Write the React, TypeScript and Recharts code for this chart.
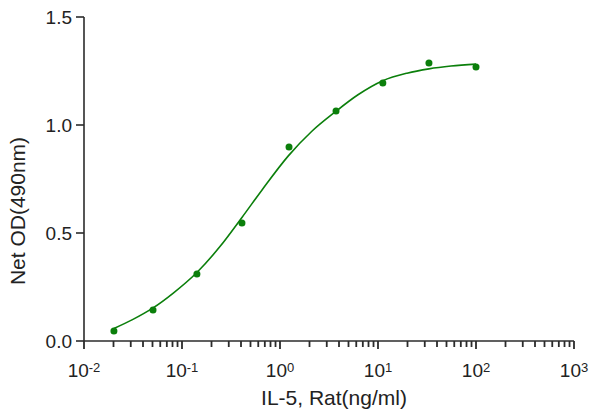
import React from 'react';
import { ComposedChart, Line, Scatter, XAxis, YAxis, Label } from 'recharts';

// Measured points (concentration ng/ml, Net OD)
const pointX = [0.0202, 0.0506, 0.142, 0.409, 1.236, 3.73, 11.2, 33.1, 100];
const pointY = [0.046, 0.144, 0.31, 0.546, 0.898, 1.065, 1.194, 1.287, 1.268];

// Fitted curve
const curveX = [0.0202, 0.0316, 0.0502, 0.0815, 0.141, 0.244, 0.409, 0.65, 1.216, 2.1, 3.64, 6.25, 11.2, 19.8, 33.1, 55.6, 100];
const curveY = [0.058, 0.1, 0.152, 0.222, 0.316, 0.437, 0.572, 0.697, 0.857, 0.97, 1.06, 1.14, 1.205, 1.24, 1.26, 1.273, 1.282];

const majorTicks = [0.01, 0.1, 1, 10, 100, 1000];
const minorMultipliers = [2, 3, 4, 5, 6, 7, 8, 9];
const yTicks = [0, 0.5, 1.0, 1.5];

const xTitle = 'IL-5, Rat(ng/ml)';
const yTitle = 'Net OD(490nm)';

const CHART_W = 592;
const CHART_H = 411;
const MARGIN = { top: 17, right: 18, left: 0, bottom: 0 };
const Y_AXIS_W = 84;
const PLOT_W = CHART_W - MARGIN.left - MARGIN.right - Y_AXIS_W;

const GREEN = '#0b7f0b';
const AXIS = '#2b2b2b';
const TEXT = '#222222';
const FONT = '"Liberation Sans", Arial, Helvetica, sans-serif';

const points = pointX.map((x, i) => ({ x, y: pointY[i] }));
const curve = curveX.map((x, i) => ({ x, y: curveY[i] }));
const decadeW = PLOT_W / (majorTicks.length - 1);

const XTick = (props: any) => {
  const { x, y, payload } = props;
  const v = Number(payload.value);
  const exp = Math.round(Math.log10(v));
  const px = Number(x);
  const py = Number(y);
  const isLast = v === majorTicks[majorTicks.length - 1];
  return (
    <g>
      <line x1={px} x2={px} y1={py} y2={py + 8} stroke={AXIS} strokeWidth={1.8} />
      {!isLast &&
        minorMultipliers.map((m) => {
          const mx = px + Math.log10(m) * decadeW;
          return <line key={m} x1={mx} x2={mx} y1={py} y2={py + 6} stroke={AXIS} strokeWidth={1.8} />;
        })}
      <text x={px} y={py + 36} textAnchor="middle" fontSize={19} fill={TEXT} fontFamily={FONT}>
        <tspan>10</tspan>
        <tspan dy={-5} fontSize={13}>{String(exp)}</tspan>
      </text>
    </g>
  );
};

const YTitle = (props: any) => {
  const { x, y, height } = props.viewBox;
  const cx = x + 17;
  const cy = y + height / 2 + 32;
  return (
    <text
      x={cx}
      y={cy}
      transform={`rotate(-90 ${cx} ${cy})`}
      textAnchor="middle"
      dominantBaseline="central"
      fontSize={21}
      fill={TEXT}
      fontFamily={FONT}
    >
      {yTitle}
    </text>
  );
};

const XTitle = (props: any) => {
  const { x, y, width } = props.viewBox;
  return (
    <text x={x + width / 2 + 5} y={y + 64} textAnchor="middle" fontSize={21} fill={TEXT} fontFamily={FONT}>
      {xTitle}
    </text>
  );
};

const Dot = (props: any) => <circle cx={props.cx} cy={props.cy} r={3.5} fill={GREEN} />;

export default function App() {
  return (
    <div style={{ position: 'absolute', left: 0, top: 0, background: '#fff' }}>
      <ComposedChart width={CHART_W} height={CHART_H} margin={MARGIN}>
        <XAxis
          dataKey="x"
          type="number"
          scale="log"
          domain={[0.01, 1000]}
          ticks={majorTicks}
          interval={0}
          height={70}
          tickLine={false}
          tickSize={0}
          tickMargin={0}
          tick={<XTick />}
          axisLine={{ stroke: AXIS, strokeWidth: 1.6 }}
          label={<Label content={XTitle} />}
        />
        <YAxis
          type="number"
          domain={[0, 1.5]}
          ticks={yTicks}
          interval={0}
          width={Y_AXIS_W}
          tickSize={8}
          tickMargin={4}
          tickFormatter={(v: number) => v.toFixed(1)}
          tick={{ fontSize: 19, fill: TEXT, fontFamily: FONT }}
          tickLine={{ stroke: AXIS, strokeWidth: 1.6 }}
          axisLine={{ stroke: AXIS, strokeWidth: 1.6 }}
          label={<Label content={YTitle} />}
        />
        <Line
          data={curve}
          dataKey="y"
          type="monotone"
          stroke={GREEN}
          strokeWidth={1.6}
          dot={false}
          activeDot={false}
          isAnimationActive={false}
        />
        <Scatter data={points} dataKey="y" fill={GREEN} shape={<Dot />} isAnimationActive={false} />
      </ComposedChart>
    </div>
  );
}
